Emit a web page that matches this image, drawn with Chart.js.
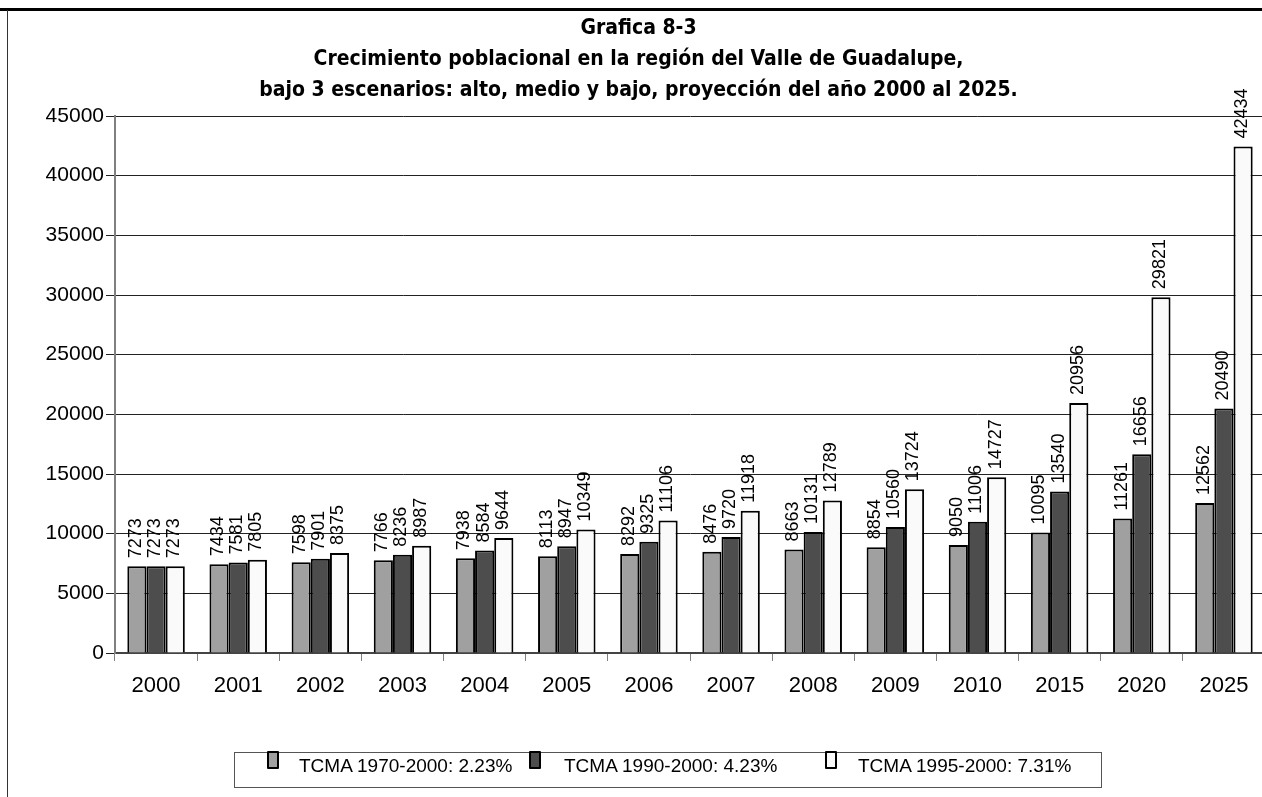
<!DOCTYPE html>
<html>
<head>
<meta charset="utf-8">
<script src="https://cdn.jsdelivr.net/npm/chart.js@4.4.1/dist/chart.umd.min.js"></script>
<style>
    html, body { margin: 0; padding: 0; background: #fff; overflow: hidden; }
    #wrap { position: relative; width: 1262px; height: 797px; overflow: hidden; }
    #chart { position: absolute; left: 0; top: 0; }
    .frameTop { position: absolute; left: 0; top: 8px; width: 1262px; height: 3px; background: #000; }
    .frameLeft { position: absolute; left: 7px; top: 10px; width: 1px; height: 787px; background: #333; }
    #legend {
        position: absolute; left: 234px; top: 752px; width: 866px; height: 34px;
        border: 1px solid #555; font: 19px "Liberation Sans", Arial, sans-serif; color: #000;
    }
    .swatch { position: absolute; top: -2px; width: 8px; height: 14px; border: 2px solid #000; border-radius: 1px; }
    .label { position: absolute; top: 2px; white-space: nowrap; }
</style>
</head>
<body>
<div id="wrap">
    <canvas id="chart" width="1265" height="797"></canvas>
    <div class="frameTop"></div>
    <div class="frameLeft"></div>
    <div id="legend"></div>
</div>
<script>
const years = ['2000', '2001', '2002', '2003', '2004', '2005', '2006', '2007', '2008', '2009', '2010', '2015', '2020', '2025'];
const tcma1970 = [7273, 7434, 7598, 7766, 7938, 8113, 8292, 8476, 8663, 8854, 9050, 10095, 11261, 12562];
const tcma1990 = [7273, 7581, 7901, 8236, 8584, 8947, 9325, 9720, 10131, 10560, 11006, 13540, 16656, 20490];
const tcma1995 = [7273, 7805, 8375, 8987, 9644, 10349, 11106, 11918, 12789, 13724, 14727, 20956, 29821, 42434];
const seriesNames = ['TCMA 1970-2000: 2.23%', 'TCMA 1990-2000: 4.23%', 'TCMA 1995-2000: 7.31%'];
const seriesColors = ['#a0a0a0', '#4d4d4d', '#fafafa'];
const titleLines = [
    'Grafica 8-3',
    'Crecimiento poblacional en la región del Valle de Guadalupe,',
    'bajo 3 escenarios: alto, medio y bajo, proyección del año 2000 al 2025.'
];
const yMax = 45000;
const yStep = 5000;

// rotated value labels above every bar
const barLabels = {
    id: 'barLabels',
    afterDatasetsDraw(chart) {
        const ctx = chart.ctx;
        ctx.save();
        ctx.font = '18px "Liberation Sans", Arial, sans-serif';
        ctx.fillStyle = '#000';
        ctx.textAlign = 'left';
        ctx.textBaseline = 'middle';
        chart.data.datasets.forEach((ds, i) => {
            chart.getDatasetMeta(i).data.forEach((bar, j) => {
                ctx.save();
                ctx.translate(bar.x - 1, bar.y - 8);
                ctx.rotate(-Math.PI / 2);
                ctx.fillText(String(ds.data[j]), 0, 0);
                ctx.restore();
            });
        });
        ctx.restore();
    }
};

const datasets = [tcma1970, tcma1990, tcma1995].map((values, i) => ({
    label: seriesNames[i],
    data: values,
    backgroundColor: seriesColors[i],
    borderColor: '#000',
    borderWidth: 2,
    categoryPercentage: 0.7,
    barPercentage: 1.0
}));

new Chart(document.getElementById('chart'), {
    type: 'bar',
    data: { labels: years, datasets },
    plugins: [barLabels],
    options: {
        responsive: false,
        animation: false,
        layout: { padding: { left: 12, right: 0, top: 0, bottom: 0 } },
        plugins: {
            legend: { display: false },
            tooltip: { enabled: false },
            title: {
                display: true,
                text: titleLines,
                color: '#000',
                font: { family: '"DejaVu Sans Condensed", "DejaVu Sans", sans-serif', size: 21, weight: 'bold', lineHeight: 31 / 21 },
                padding: { top: 13, bottom: 10 }
            }
        },
        scales: {
            x: {
                offset: true,
                grid: { display: true, drawOnChartArea: false, offset: true, tickLength: 8, color: '#808080' },
                border: { color: '#444', width: 2 },
                ticks: { color: '#000', font: { family: '"Liberation Sans", Arial, sans-serif', size: 22 }, padding: 12, maxRotation: 0 },
                afterFit(scale) { scale.height = 144; }
            },
            y: {
                min: 0,
                max: yMax,
                ticks: {
                    stepSize: yStep,
                    color: '#000',
                    font: { family: '"Liberation Sans", Arial, sans-serif', size: 21 },
                    padding: 2,
                    callback: (v) => String(v)
                },
                grid: { color: '#222', tickLength: 9 },
                border: { color: '#808080', width: 2 },
                afterFit(scale) { scale.width = 103; }
            }
        }
    }
});

// legend box built from the series names
const legend = document.getElementById('legend');
const swatchX = [32, 294, 590];
const labelX = [64, 329, 623];
seriesNames.forEach((name, i) => {
    const sw = document.createElement('div');
    sw.className = 'swatch';
    sw.style.left = swatchX[i] + 'px';
    sw.style.background = seriesColors[i];
    const lb = document.createElement('div');
    lb.className = 'label';
    lb.style.left = labelX[i] + 'px';
    lb.textContent = name;
    legend.appendChild(sw);
    legend.appendChild(lb);
});
</script>
</body>
</html>
